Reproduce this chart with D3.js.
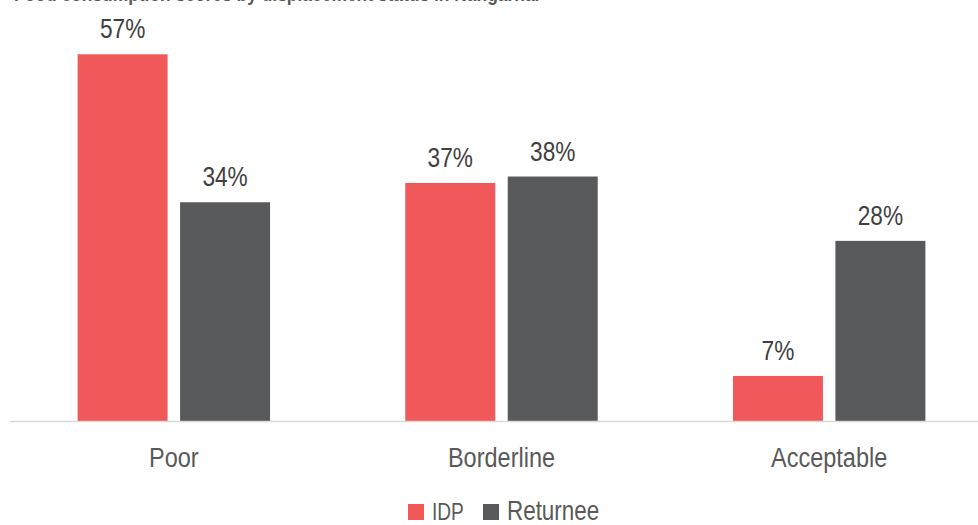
<!DOCTYPE html>
<html>
<head>
<meta charset="utf-8">
<script src="https://cdn.jsdelivr.net/npm/d3@7"></script>
<style>
  html, body { margin: 0; padding: 0; background: #fff; }
  svg { display: block; }
  text { font-family: "Liberation Sans", Arial, sans-serif; }
</style>
</head>
<body>
<svg id="chart" width="978" height="525"></svg>
<script>
// Food consumption score groups, share of households by displacement status
const categories = ["Poor", "Borderline", "Acceptable"];
const seriesNames = ["IDP", "Returnee"];
const idpValues = [57, 37, 7];
const returneeValues = [34, 38, 28];
const seriesColors = ["#F0585A", "#58595B"];
const titleText = "Food consumption scores by displacement status in Nangarhar";

const svg = d3.select("#chart");
const W = 978;
const baseY = 421;
const narrow = 0.83; // horizontal squeeze for a condensed look

const x = d3.scaleBand().domain(categories).range([10, 993]).paddingInner(0).paddingOuter(0);
const xs = d3.scaleBand().domain(seriesNames).range([0, x.bandwidth()])
  .paddingInner(0.122).paddingOuter(0.66);
const y = d3.scaleLinear().domain([0, 60]).range([baseY, 35]);

const rows = categories.map((c, i) => ({
  category: c,
  values: [
    { series: "IDP", value: idpValues[i] },
    { series: "Returnee", value: returneeValues[i] }
  ]
}));
const color = d3.scaleOrdinal().domain(seriesNames).range(seriesColors);

// heading running off the top edge
svg.append("text")
  .attr("transform", `translate(14,0.5) scale(${narrow},1)`)
  .attr("font-size", 21).attr("font-weight", "bold")
  .attr("fill", "#595959")
  .text(titleText);

const groups = svg.append("g").selectAll("g")
  .data(rows).join("g")
  .attr("transform", d => `translate(${x(d.category)},0)`);

groups.selectAll("rect")
  .data(d => d.values).join("rect")
  .attr("x", d => xs(d.series))
  .attr("width", xs.bandwidth())
  .attr("y", d => y(d.value))
  .attr("height", d => y(0) - y(d.value))
  .attr("fill", d => color(d.series));

groups.selectAll("text.val")
  .data(d => d.values).join("text")
  .attr("class", "val")
  .attr("transform", d =>
    `translate(${xs(d.series) + xs.bandwidth() / 2},${y(d.value) - 16}) scale(0.84,1)`)
  .attr("text-anchor", "middle")
  .attr("font-size", 27)
  .attr("fill", "#404040")
  .text(d => d.value + "%");

// category axis
const xAxis = svg.append("g")
  .attr("transform", `translate(0,${baseY})`)
  .call(d3.axisBottom(x).tickSize(0).tickPadding(26));
xAxis.select(".domain").remove();
xAxis.append("line")
  .attr("x1", 10).attr("x2", W).attr("y1", 0.5).attr("y2", 0.5)
  .attr("stroke", "#D9D9D9").attr("stroke-width", 1.5);
xAxis.selectAll(".tick text")
  .attr("transform", "scale(0.84,1)")
  .attr("font-size", 28)
  .attr("fill", "#595959")
  .style("font-family", "'Liberation Sans', Arial, sans-serif");

// legend
const legendItems = [
  { name: "IDP", x: 408, size: 23 },
  { name: "Returnee", x: 483, size: 27 }
];
const legend = svg.append("g").selectAll("g")
  .data(legendItems).join("g")
  .attr("transform", d => `translate(${d.x},504)`);
legend.append("rect")
  .attr("width", 16).attr("height", 16)
  .attr("fill", d => color(d.name));
legend.append("text")
  .attr("transform", `translate(24,16) scale(${narrow},1)`)
  .attr("font-size", d => d.size)
  .attr("fill", "#595959")
  .text(d => d.name);
</script>
</body>
</html>
